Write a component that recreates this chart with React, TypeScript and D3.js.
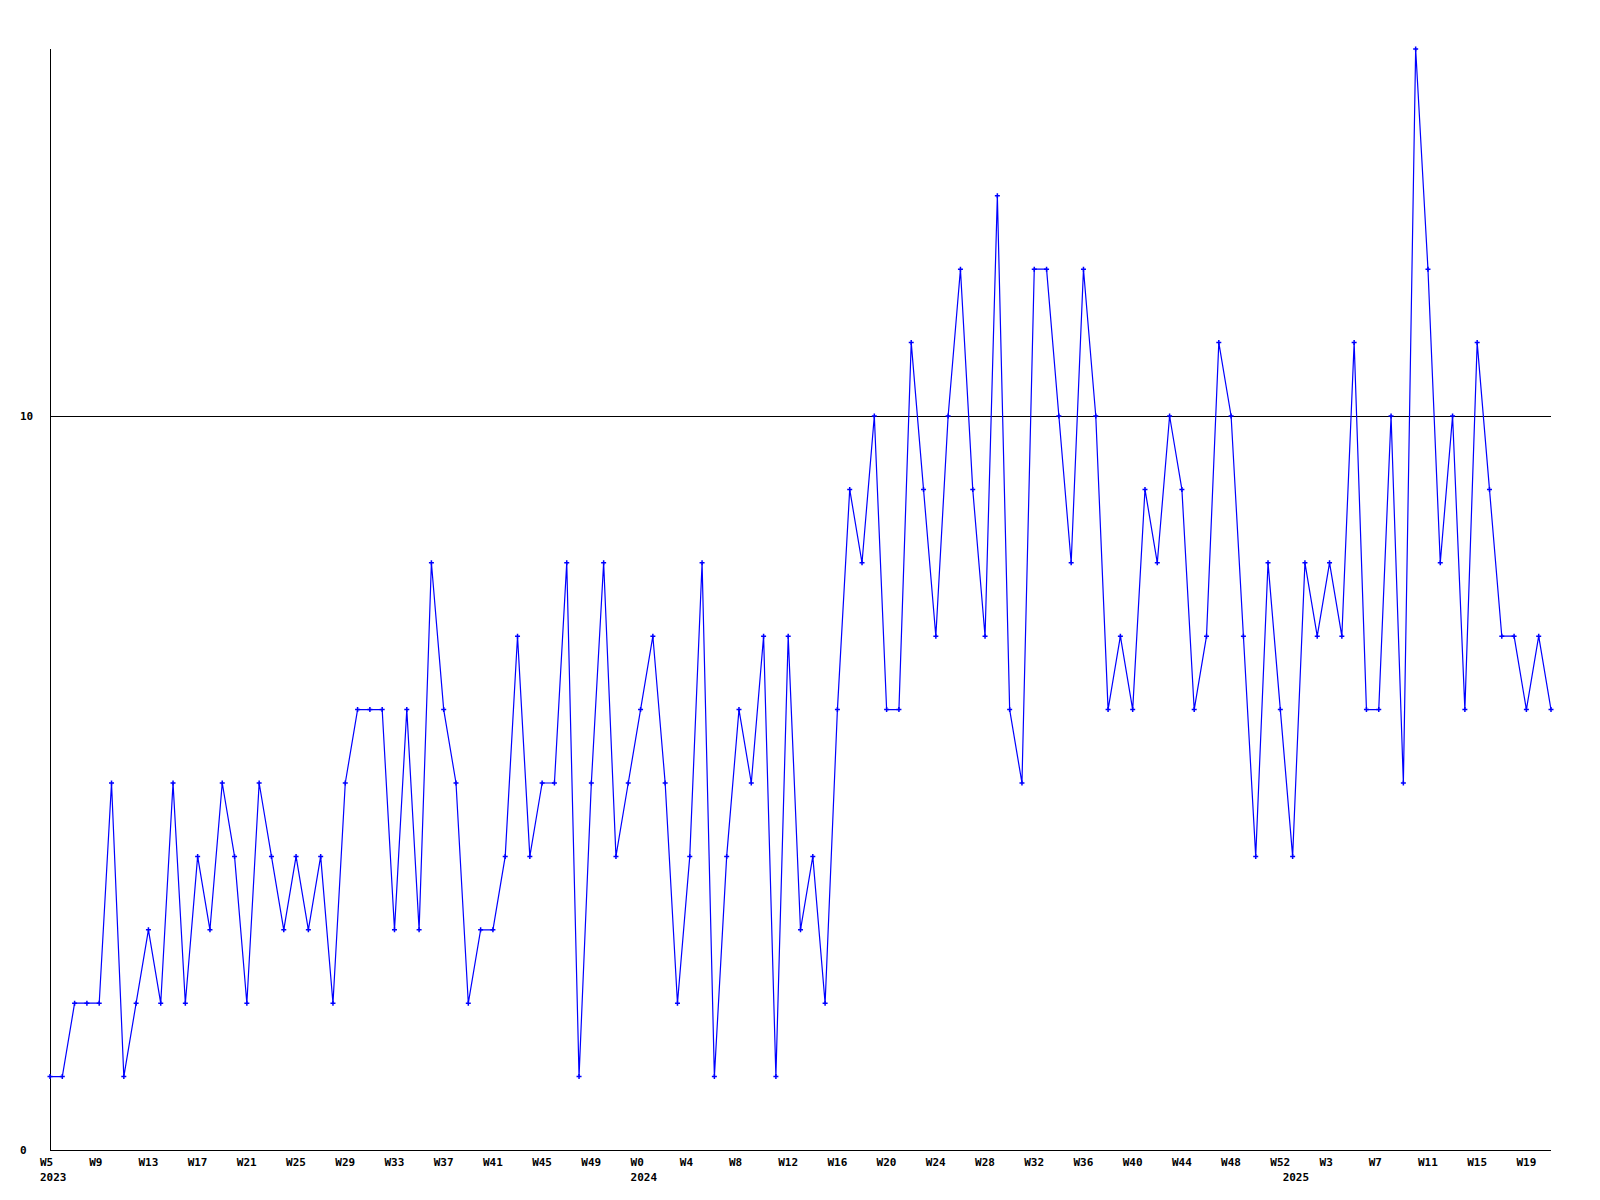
import React from "react";
import * as d3 from "d3";

const values: number[] = [
  1, 1, 2, 2, 2, 5, 1, 2, 3, 2,
  5, 2, 4, 3, 5, 4, 2, 5, 4, 3,
  4, 3, 4, 2, 5, 6, 6, 6, 3, 6,
  3, 8, 6, 5, 2, 3, 3, 4, 7, 4,
  5, 5, 8, 1, 5, 8, 4, 5, 6, 7,
  5, 2, 4, 8, 1, 4, 6, 5, 7, 1,
  7, 3, 4, 2, 6, 9, 8, 10, 6, 6,
  11, 9, 7, 10, 12, 9, 7, 13, 6, 5,
  12, 12, 10, 8, 12, 10, 6, 7, 6, 9,
  8, 10, 9, 6, 7, 11, 10, 7, 4, 8,
  6, 4, 8, 7, 8, 7, 11, 6, 6, 10,
  5, 15, 12, 8, 10, 6, 11, 9, 7, 7,
  6, 7, 6,
];

const tickIndex: number[] = [0, 4, 8, 12, 16, 20, 24, 28, 32, 36, 40, 44, 48, 52, 56, 60, 64, 68, 72, 76, 80, 84, 88, 92, 96, 100, 104, 108, 112, 116, 120];
const tickLabels: string[] = ["W5", "W9", "W13", "W17", "W21", "W25", "W29", "W33", "W37", "W41", "W45", "W49", "W0", "W4", "W8", "W12", "W16", "W20", "W24", "W28", "W32", "W36", "W40", "W44", "W48", "W52", "W3", "W7", "W11", "W15", "W19"];
const yearIndex: number[] = [0, 48, 101];
const yearLabels: string[] = ["2023", "2024", "2025"];
const yTicks: number[] = [0, 10];

const W = 1600;
const H = 1200;
const left = 50;
const right = 1551;
const top = 49;
const bottom = 1150;

export default function App() {
  const x = d3.scaleLinear().domain([0, values.length - 1]).range([left, right]);
  const y = d3.scaleLinear().domain([0, 15]).range([bottom, top]);
  const line = d3
    .line<number>()
    .x((_, i) => x(i))
    .y((d) => y(d));
  const font = "'DejaVu Sans Mono', 'Liberation Mono', monospace";
  return (
    <svg
      width={W}
      height={H}
      style={{ position: "absolute", left: 0, top: 0, background: "#fff" }}
    >
      <rect x={0} y={0} width={W} height={H} fill="#fff" />
      {/* axes */}
      <line x1={left + 0.5} x2={left + 0.5} y1={top} y2={bottom} stroke="#000" strokeWidth={1} shapeRendering="crispEdges" />
      <line x1={left} x2={right} y1={bottom + 0.5} y2={bottom + 0.5} stroke="#000" strokeWidth={1} shapeRendering="crispEdges" />
      <line x1={left} x2={right} y1={Math.round(y(10)) + 0.5} y2={Math.round(y(10)) + 0.5} stroke="#000" strokeWidth={1} shapeRendering="crispEdges" />
      {/* y labels */}
      {yTicks.map((t) => (
        <text key={"y" + t} x={20} y={y(t)} dy="0.35em" fontFamily={font} fontWeight="bold" fontSize={11} fill="#000">
          {t}
        </text>
      ))}
      {/* x labels */}
      {tickIndex.map((ti, k) => (
        <text key={"x" + ti} x={x(ti) - 10} y={1166} fontFamily={font} fontWeight="bold" fontSize={11} fill="#000">
          {tickLabels[k]}
        </text>
      ))}
      {yearIndex.map((yi, k) => (
        <text key={"yr" + yi} x={x(yi) - 10} y={1181} fontFamily={font} fontWeight="bold" fontSize={11} fill="#000">
          {yearLabels[k]}
        </text>
      ))}
      {/* data line */}
      <path d={line(values) || ""} fill="none" stroke="#0000ff" strokeWidth={1.2} />
      {values.map((v, i) => (
        <path
          key={"m" + i}
          transform={`translate(${x(i)},${y(v)})`}
          d="M-2.5,0H2.5M0,-2.5V2.5"
          stroke="#0000ff"
          strokeWidth={1.5}
          fill="none"
        />
      ))}
    </svg>
  );
}
